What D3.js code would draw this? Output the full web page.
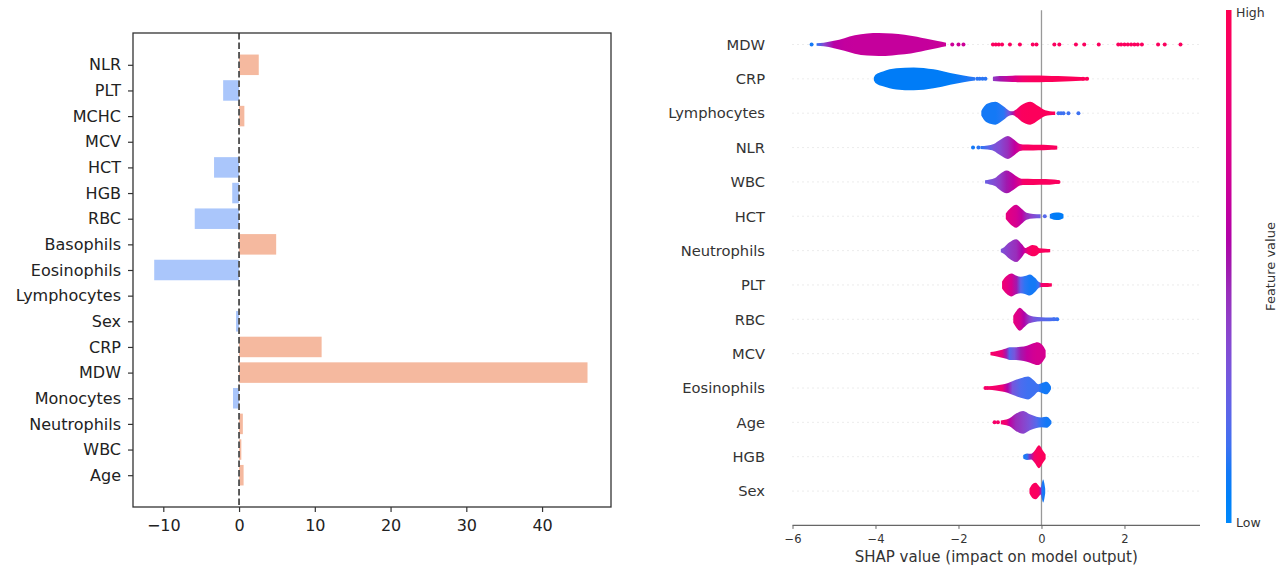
<!DOCTYPE html>
<html>
<head>
<meta charset="utf-8">
<script src="https://cdn.jsdelivr.net/npm/d3@7"></script>
<style>
  body { margin: 0; background: #fff; }
  text { font-family: "DejaVu Sans", sans-serif; }
</style>
</head>
<body>
<svg id="chart" width="1288" height="569"></svg>
<script>
// ---------- left panel: bar chart (listed top to bottom)
var barFeatures = ["NLR", "PLT", "MCHC", "MCV", "HCT", "HGB", "RBC", "Basophils", "Eosinophils",
  "Lymphocytes", "Sex", "CRP", "MDW", "Monocytes", "Neutrophils", "WBC", "Age"];
var barValues = [2.6, -2.1, 0.7, 0, -3.3, -0.9, -5.85, 4.9, -11.2, 0, -0.4, 10.9, 46.0, -0.8, 0.5, 0.3, 0.6];
var barTicks = [-10, 0, 10, 20, 30, 40];

// ---------- right panel: SHAP violin summary (listed top to bottom)
var shapFeatures = ["MDW", "CRP", "Lymphocytes", "NLR", "WBC", "HCT", "Neutrophils", "PLT", "RBC",
  "MCV", "Eosinophils", "Age", "HGB", "Sex"];
var shapTicks = [-6, -4, -2, 0, 2];

// violin outlines: [shap value, relative half width, feature value 0..1]
var violinMDW = [[[-5.42, 0.10, 0.12], [-5.25, 0.15, 0.35], [-5.0, 0.32, 0.58], [-4.75, 0.55, 0.62],
  [-4.5, 0.80, 0.63], [-4.2, 0.96, 0.63], [-3.92, 1.0, 0.63], [-3.6, 0.95, 0.63], [-3.3, 0.86, 0.63],
  [-3.0, 0.68, 0.63], [-2.8, 0.52, 0.63], [-2.5, 0.30, 0.64], [-2.3, 0.15, 0.66]]];
var violinCRP = [
  [[-4.04, 0.12, 0.08], [-4.0, 0.36, 0.08], [-3.82, 0.65, 0.08], [-3.5, 0.92, 0.08], [-3.08, 1.0, 0.08],
   [-2.6, 0.83, 0.08], [-2.2, 0.51, 0.08], [-1.88, 0.30, 0.10], [-1.6, 0.15, 0.12]],
  [[-1.17, 0.18, 0.40], [-1.0, 0.24, 0.50], [-0.7, 0.28, 0.70], [-0.45, 0.30, 0.88], [-0.2, 0.30, 0.95],
   [0.1, 0.28, 0.97], [0.4, 0.25, 0.97], [0.7, 0.20, 0.97], [0.95, 0.16, 0.97], [1.1, 0.12, 0.97]]];
var violinLymphocytes = [[[-1.45, 0.20, 0.1], [-1.40, 0.50, 0.1], [-1.31, 0.82, 0.1], [-1.11, 1.0, 0.1],
  [-0.91, 0.58, 0.12], [-0.78, 0.22, 0.3], [-0.70, 0.16, 0.5], [-0.62, 0.30, 0.85], [-0.48, 0.72, 0.95],
  [-0.27, 1.0, 0.96], [-0.07, 0.60, 0.96], [0.09, 0.25, 0.96], [0.2, 0.18, 0.96], [0.33, 0.15, 0.96]]];
var violinNLR = [[[-1.47, 0.13, 0.12], [-1.3, 0.18, 0.2], [-1.15, 0.30, 0.3], [-1.0, 0.65, 0.35],
  [-0.81, 1.0, 0.45], [-0.65, 0.65, 0.6], [-0.52, 0.30, 0.75], [-0.45, 0.26, 0.9], [-0.2, 0.25, 0.95],
  [0.05, 0.24, 0.95], [0.25, 0.20, 0.95], [0.38, 0.16, 0.95]]];
var violinWBC = [[[-1.36, 0.15, 0.25], [-1.25, 0.22, 0.3], [-1.12, 0.35, 0.35], [-1.0, 0.70, 0.4],
  [-0.84, 1.0, 0.5], [-0.68, 0.70, 0.6], [-0.52, 0.32, 0.75], [-0.45, 0.27, 0.9], [-0.2, 0.26, 0.95],
  [0.1, 0.25, 0.95], [0.3, 0.20, 0.95], [0.41, 0.15, 0.95]]];
var violinHCT = [
  [[-0.86, 0.25, 0.8], [-0.75, 0.70, 0.75], [-0.61, 1.0, 0.7], [-0.48, 0.65, 0.6], [-0.36, 0.30, 0.45],
   [-0.2, 0.20, 0.35], [-0.02, 0.17, 0.25]],
  [[0.2, 0.18, 0.1], [0.3, 0.30, 0.08], [0.42, 0.32, 0.08], [0.53, 0.18, 0.08]]];
var violinNeutrophils = [[[-0.98, 0.15, 0.3], [-0.9, 0.30, 0.35], [-0.78, 0.70, 0.4], [-0.61, 1.0, 0.45],
  [-0.47, 0.55, 0.55], [-0.39, 0.22, 0.7], [-0.33, 0.32, 0.85], [-0.22, 0.50, 0.95], [-0.12, 0.42, 0.95],
  [-0.05, 0.20, 0.95], [0.1, 0.17, 0.95], [0.21, 0.14, 0.95]]];
var violinPLT = [[[-0.95, 0.30, 0.85], [-0.85, 0.75, 0.8], [-0.72, 1.0, 0.7], [-0.6, 0.80, 0.5],
  [-0.5, 0.72, 0.2], [-0.4, 0.78, 0.12], [-0.28, 0.92, 0.1], [-0.15, 0.60, 0.1], [-0.06, 0.25, 0.15],
  [0.0, 0.18, 0.85], [0.15, 0.17, 0.95], [0.25, 0.14, 0.95]]];
var violinRBC = [[[-0.68, 0.30, 0.8], [-0.6, 0.75, 0.75], [-0.52, 1.0, 0.7], [-0.42, 0.70, 0.55],
  [-0.3, 0.35, 0.4], [-0.2, 0.25, 0.3], [0.0, 0.18, 0.22], [0.2, 0.16, 0.18], [0.38, 0.14, 0.15]]];
var violinMCV = [[[-1.23, 0.14, 0.9], [-1.1, 0.22, 0.88], [-0.95, 0.35, 0.8], [-0.85, 0.45, 0.5],
  [-0.77, 0.55, 0.2], [-0.65, 0.55, 0.3], [-0.5, 0.60, 0.5], [-0.35, 0.70, 0.62], [-0.2, 0.90, 0.68],
  [-0.1, 1.0, 0.7], [0.02, 0.75, 0.7], [0.1, 0.30, 0.7]]];
var violinEosinophils = [[[-1.28, 0.15, 0.92], [-1.1, 0.22, 0.88], [-0.95, 0.30, 0.85], [-0.82, 0.42, 0.55],
  [-0.7, 0.60, 0.3], [-0.5, 0.85, 0.18], [-0.32, 1.0, 0.15], [-0.18, 0.65, 0.15], [-0.08, 0.32, 0.15],
  [0.02, 0.45, 0.1], [0.12, 0.55, 0.1], [0.2, 0.30, 0.1], [0.23, 0.12, 0.1]]];
var violinAge = [[[-0.98, 0.16, 0.9], [-0.85, 0.25, 0.85], [-0.77, 0.35, 0.6], [-0.62, 0.75, 0.45],
  [-0.44, 1.0, 0.38], [-0.28, 0.70, 0.3], [-0.12, 0.50, 0.2], [0.0, 0.42, 0.12], [0.12, 0.48, 0.1],
  [0.2, 0.30, 0.1], [0.24, 0.12, 0.1]]];
var violinHGB = [[[-0.44, 0.15, 0.1], [-0.35, 0.28, 0.12], [-0.25, 0.25, 0.5], [-0.17, 0.50, 0.9],
  [-0.06, 1.0, 0.96], [0.04, 0.50, 0.96], [0.1, 0.20, 0.96]]];
var violinSex = [[[-0.29, 0.20, 0.95], [-0.22, 0.60, 0.95], [-0.14, 0.72, 0.95], [-0.06, 0.45, 0.92],
  [-0.02, 0.30, 0.5], [0.01, 0.70, 0.12], [0.04, 1.0, 0.1], [0.07, 0.65, 0.1], [0.09, 0.20, 0.1]]];

// single points outside the violins: [shap value, feature value 0..1]
var dotsMDW = [[-5.54, 0.1], [-2.15, 0.66], [-2.0, 0.66], [-1.88, 0.66], [-1.17, 0.95], [-1.1, 0.95],
  [-1.03, 0.95], [-0.95, 0.95], [-0.76, 0.95], [-0.52, 0.95], [-0.21, 0.95], [-0.12, 0.95], [0.31, 0.95],
  [0.43, 0.95], [0.83, 0.95], [1.03, 0.95], [1.38, 0.95], [1.85, 0.95], [1.92, 0.95], [2.0, 0.95],
  [2.08, 0.95], [2.16, 0.95], [2.24, 0.95], [2.32, 0.95], [2.42, 0.95], [2.81, 0.95], [2.97, 0.95],
  [3.35, 0.95]];
var dotsCRP = [[-1.55, 0.12], [-1.49, 0.12], [-1.42, 0.12], [-1.35, 0.12], [1.0, 0.97], [1.1, 0.97]];
var dotsLymphocytes = [[0.41, 0.15], [0.47, 0.15], [0.53, 0.15], [0.65, 0.15], [0.89, 0.15]];
var dotsNLR = [[-1.65, 0.1], [-1.52, 0.12]];
var dotsWBC = [[0.36, 0.95], [0.41, 0.95]];
var dotsHCT = [[0.08, 0.2]];
var dotsNeutrophils = [];
var dotsPLT = [];
var dotsRBC = [[0.3, 0.12], [0.38, 0.12]];
var dotsMCV = [];
var dotsEosinophils = [[-1.35, 0.9], [-1.3, 0.9]];
var dotsAge = [[-1.13, 0.9], [-1.05, 0.9]];
var dotsHGB = [];
var dotsSex = [];

var violinTable = {
  MDW: [violinMDW, dotsMDW], CRP: [violinCRP, dotsCRP], Lymphocytes: [violinLymphocytes, dotsLymphocytes],
  NLR: [violinNLR, dotsNLR], WBC: [violinWBC, dotsWBC], HCT: [violinHCT, dotsHCT],
  Neutrophils: [violinNeutrophils, dotsNeutrophils], PLT: [violinPLT, dotsPLT], RBC: [violinRBC, dotsRBC],
  MCV: [violinMCV, dotsMCV], Eosinophils: [violinEosinophils, dotsEosinophils], Age: [violinAge, dotsAge],
  HGB: [violinHGB, dotsHGB], Sex: [violinSex, dotsSex]
};

// shap's red_blue map, blended in LCH
function shapColor(t) {
  var l = t < 0.5 ? 54 - 14 * (t / 0.5) : 40 + 14 * ((t - 0.5) / 0.5);
  var c = 70 + 20 * t;
  var h = (4.6588 + t * (0.35470565 + 2 * Math.PI - 4.6588)) * 180 / Math.PI;
  return d3.hcl(h, c, l).formatHex();
}

var svg = d3.select("#chart");
var defs = svg.append("defs");

// ================= left panel
var L = {left: 133, right: 611, top: 33, bottom: 507};
var lx = d3.scaleLinear().domain([-14.0, 49.1]).range([L.left, L.right]);
var ly = d3.scaleLinear().domain([-1.24, 17.24]).range([L.bottom, L.top]);
var nb = barFeatures.length;

var left = svg.append("g");
left.selectAll("rect.bar")
  .data(barValues)
  .enter().append("rect")
    .attr("class", "bar")
    .attr("x", function(d) { return lx(Math.min(0, d)); })
    .attr("width", function(d) { return Math.abs(lx(d) - lx(0)); })
    .attr("y", function(d, i) { return ly(nb - 1 - i + 0.4); })
    .attr("height", ly(0) - ly(0.8))
    .attr("fill", function(d) { return d >= 0 ? "#f5b99f" : "#aac6fb"; });

left.append("line")
  .attr("x1", lx(0)).attr("x2", lx(0))
  .attr("y1", L.top).attr("y2", L.bottom)
  .attr("stroke", "#555")
  .attr("stroke-width", 1.9)
  .attr("stroke-dasharray", "6.5,3");

var yAxisL = d3.axisLeft(ly)
  .tickValues(d3.range(nb))
  .tickFormat(function(p) { return barFeatures[nb - 1 - p]; })
  .tickSize(5).tickPadding(7);
var gyl = left.append("g").attr("transform", "translate(" + L.left + ",0)").call(yAxisL);

var xAxisL = d3.axisBottom(lx)
  .tickValues(barTicks)
  .tickFormat(function(d) { return d < 0 ? "\u2212" + Math.abs(d) : d; })
  .tickSize(5).tickPadding(8);
var gxl = left.append("g").attr("transform", "translate(0," + L.bottom + ")").call(xAxisL);

[gyl, gxl].forEach(function(g) {
  g.select(".domain").remove();
  g.selectAll("line").attr("stroke", "#333").attr("stroke-width", 1.2);
  g.selectAll("text").attr("font-size", 16).attr("fill", "#222")
    .attr("font-family", "DejaVu Sans, sans-serif");
});

left.append("rect")
  .attr("x", L.left).attr("y", L.top)
  .attr("width", L.right - L.left).attr("height", L.bottom - L.top)
  .attr("fill", "none").attr("stroke", "#333").attr("stroke-width", 1.3);

// ================= right panel
var R = {left: 792.5, right: 1200, top: 10.15, bottom: 525.4};
var ns = shapFeatures.length;
var rx = d3.scaleLinear().domain([-6, 3.82]).range([R.left, R.right]);
var ry = d3.scaleLinear().domain([-1, ns]).range([R.bottom, R.top]);
var halfUnit = (ry(0) - ry(1)) / 3;

var right = svg.append("g");

// dotted row guides
right.selectAll("line.guide")
  .data(shapFeatures)
  .enter().append("line")
    .attr("class", "guide")
    .attr("x1", R.left).attr("x2", R.right)
    .attr("y1", function(d, i) { return ry(ns - 1 - i); })
    .attr("y2", function(d, i) { return ry(ns - 1 - i); })
    .attr("stroke", "#cfcfcf").attr("stroke-width", 0.8)
    .attr("stroke-dasharray", "1,4");

right.append("line")
  .attr("x1", rx(0)).attr("x2", rx(0))
  .attr("y1", R.top).attr("y2", R.bottom)
  .attr("stroke", "#999").attr("stroke-width", 1.3);

shapFeatures.forEach(function(name, i) {
  var yc = ry(ns - 1 - i);
  var segs = violinTable[name][0];
  var dots = violinTable[name][1];

  right.selectAll("circle.d" + i)
    .data(dots)
    .enter().append("circle")
      .attr("class", "d" + i)
      .attr("cx", function(d) { return rx(d[0]); })
      .attr("cy", yc)
      .attr("r", 2)
      .attr("fill", function(d) { return shapColor(d[1]); });

  var area = d3.area()
    .x(function(k) { return rx(k[0]); })
    .y0(function(k) { return yc + k[1] * halfUnit; })
    .y1(function(k) { return yc - k[1] * halfUnit; })
    .curve(d3.curveMonotoneX);

  segs.forEach(function(seg, j) {
    var id = "vg" + i + "_" + j;
    var x1 = rx(seg[0][0]), x2 = rx(seg[seg.length - 1][0]);
    var grad = defs.append("linearGradient")
      .attr("id", id)
      .attr("gradientUnits", "userSpaceOnUse")
      .attr("x1", x1).attr("x2", x2).attr("y1", 0).attr("y2", 0);
    grad.selectAll("stop")
      .data(seg)
      .enter().append("stop")
        .attr("offset", function(k) { return (rx(k[0]) - x1) / (x2 - x1); })
        .attr("stop-color", function(k) { return shapColor(k[2]); });
    right.append("path")
      .datum(seg)
      .attr("d", area)
      .attr("fill", "url(#" + id + ")");
  });
});

// feature names
right.selectAll("text.feat")
  .data(shapFeatures)
  .enter().append("text")
    .attr("class", "feat")
    .attr("x", 765)
    .attr("y", function(d, i) { return ry(ns - 1 - i); })
    .attr("dy", "0.36em")
    .attr("text-anchor", "end")
    .attr("font-size", 14.7)
    .attr("fill", "#333")
    .text(function(d) { return d; });

var xAxisR = d3.axisBottom(rx)
  .tickValues(shapTicks)
  .tickFormat(function(d) { return d < 0 ? "\u2212" + Math.abs(d) : d; })
  .tickSize(3.5).tickPadding(6);
var gxr = right.append("g").attr("transform", "translate(0," + R.bottom + ")").call(xAxisR);
gxr.select(".domain").attr("stroke", "#666").attr("stroke-width", 1.3)
  .attr("d", "M" + R.left + ",0H" + R.right);
gxr.selectAll("line").attr("stroke", "#666");
gxr.selectAll("text").attr("font-size", 11.5).attr("fill", "#333")
  .attr("font-family", "DejaVu Sans, sans-serif");

right.append("text")
  .attr("x", (R.left + R.right) / 2)
  .attr("y", 561.5)
  .attr("text-anchor", "middle")
  .attr("font-size", 15)
  .attr("fill", "#333")
  .text("SHAP value (impact on model output)");

// colour bar
var cb = {x: 1226, w: 5.5, top: 10, bottom: 523};
var cbGrad = defs.append("linearGradient")
  .attr("id", "cbar").attr("x1", 0).attr("x2", 0).attr("y1", 1).attr("y2", 0);
cbGrad.selectAll("stop")
  .data(d3.range(0, 1.0001, 0.05))
  .enter().append("stop")
    .attr("offset", function(t) { return t; })
    .attr("stop-color", function(t) { return shapColor(t); });
right.append("rect")
  .attr("x", cb.x).attr("y", cb.top)
  .attr("width", cb.w).attr("height", cb.bottom - cb.top)
  .attr("fill", "url(#cbar)");

right.append("text")
  .attr("x", 1236).attr("y", cb.top + 2).attr("dy", "0.36em")
  .attr("font-size", 12.5).attr("fill", "#333").text("High");
right.append("text")
  .attr("x", 1236).attr("y", cb.bottom - 1).attr("dy", "0.36em")
  .attr("font-size", 12.5).attr("fill", "#333").text("Low");
right.append("text")
  .attr("transform", "translate(1270," + ((cb.top + cb.bottom) / 2) + ") rotate(-90)")
  .attr("text-anchor", "middle")
  .attr("dy", "0.36em")
  .attr("font-size", 13)
  .attr("fill", "#333")
  .text("Feature value");
</script>
</body>
</html>
